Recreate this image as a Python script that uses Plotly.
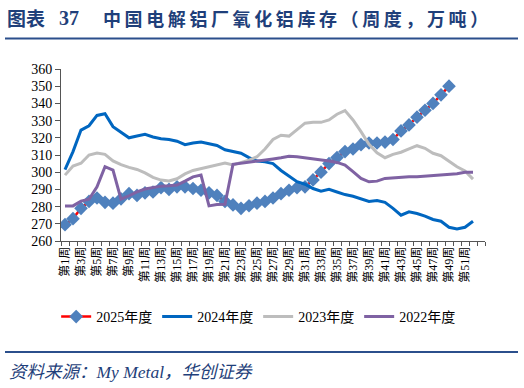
import plotly.graph_objects as go

# ---------------- data ----------------
weeks = list(range(1, 54))                      # 53 weekly categories on the axis
tick_weeks = list(range(1, 52, 2))
tick_labels = [f"第{w}周" for w in tick_weeks]

y2025 = [269.5, 273, 279, 283, 285, 282.5, 282, 284.5, 287.5, 286.5,
         288, 288.5, 291, 290, 291.5, 291.5, 290.5, 289.5, 288, 286.5,
         283, 281, 279, 280.5, 282, 283, 285, 287.5, 289.5, 291,
         291.5, 295.5, 300, 305, 308.5, 312, 313.5, 316, 317, 317,
         317.5, 319, 324, 327.5, 332, 336, 340, 345, 350]

y2024 = [301.5, 312, 324.5, 327, 333, 334, 326.5, 323, 320, 321,
         322, 320.5, 319.5, 319, 318, 316, 317, 317.5, 316.5, 315.5,
         313, 312, 311, 308.5, 306.5, 306, 305, 301, 298, 294.5,
         293, 290.5, 289, 290, 288.5, 287, 286, 284.5, 283, 283.5,
         282.5, 279, 275, 277, 276, 274.5, 272.5, 271.5, 268, 267,
         268, 271.5]

y2023 = [298.3, 303.6, 305.2, 310, 311.2, 310.4, 306.6, 304.4, 302.8, 301.6,
         299.6, 297, 295.4, 294.9, 296.2, 299, 301, 302, 303, 304.3,
         305.3, 304.2, 305.5, 307, 309, 313.5, 319, 321.5, 321, 324.5,
         328.5, 329, 329, 330.4, 333.7, 335.8, 330.4, 323.6, 316.2, 311.3,
         308.4, 310.4, 311.6, 313.5, 315.4, 313.9, 311, 309.6, 306.5, 303.2,
         300.7, 296]

y2022 = [280.4, 280.4, 283.2, 284.3, 291.5, 303.2, 301.2, 284.3, 286.3, 288.6,
         290.2, 290.9, 291.9, 292.1, 292.5, 294.8, 297.3, 298.3, 280.4, 281.2,
         281.4, 304.6, 305.2, 305.5, 306.1, 306.7, 307.7, 308.4, 309.3, 309,
         308.4, 308, 307.5, 306.5, 305.7, 304.2, 300.3, 296.4, 294.4, 294.8,
         296.4, 296.8, 297.2, 297.3, 297.3, 297.6, 297.9, 298.3, 298.7, 299.1,
         299.9, 299.9]

series_names = ["2025年度", "2024年度", "2023年度", "2022年度"]

# ---------------- figure ----------------
W, H = 524, 388
ML, MR, MT, MB = 61, 39, 69, 147
PW, PH = W - ML - MR, H - MT - MB


def xp(px):
    return (px - ML) / PW


def yp(py):
    return (H - MB - py) / PH


SERIF = "Liberation Serif, 'Times New Roman', 'Noto Sans CJK SC', serif"
NAVY = "#1F3F7A"

fig = go.Figure()

fig.add_trace(go.Scatter(
    x=weeks[:len(y2025)], y=y2025, name=series_names[0],
    mode="lines+markers",
    line=dict(color="#FF0000", width=2.5),
    marker=dict(symbol="diamond", size=10.5, color="#4F81BD"),
))
fig.add_trace(go.Scatter(
    x=weeks[:len(y2024)], y=y2024, name=series_names[1], mode="lines",
    line=dict(color="#0066C0", width=3),
))
fig.add_trace(go.Scatter(
    x=weeks[:len(y2023)], y=y2023, name=series_names[2], mode="lines",
    line=dict(color="#BDBDBD", width=3),
))
fig.add_trace(go.Scatter(
    x=weeks[:len(y2022)], y=y2022, name=series_names[3], mode="lines",
    line=dict(color="#7F62A3", width=3),
))

fig.update_layout(
    width=W, height=H,
    margin=dict(l=ML, r=MR, t=MT, b=MB),
    paper_bgcolor="white", plot_bgcolor="white",
    font=dict(family=SERIF, color="black"),
    showlegend=True,
    legend=dict(
        orientation="h", x=0.465, xanchor="center",
        y=yp(317), yanchor="middle",
        font=dict(size=14, family=SERIF),
        bgcolor="rgba(0,0,0,0)",
        itemwidth=30, tracegroupgap=0,
    ),
    xaxis=dict(
        range=[0.5, 53.5],
        tickmode="array", tickvals=tick_weeks, ticktext=tick_labels,
        tickangle=-90, ticks="", showgrid=False, zeroline=False,
        showline=True, linecolor="#555555", linewidth=1,
        tickfont=dict(size=12, family=SERIF),
        minor=dict(tickmode="linear", tick0=0.5, dtick=1, ticks="outside",
                   ticklen=4, tickcolor="#555555", showgrid=False),
    ),
    yaxis=dict(
        range=[260, 360], dtick=10, tick0=260,
        ticks="outside", ticklen=5, tickcolor="#555555",
        showline=True, linecolor="#555555", linewidth=1,
        showgrid=False, zeroline=False,
        tickfont=dict(size=14, family=SERIF),
    ),
)

# title
fig.add_annotation(
    text="<b>图表</b>", xref="paper", yref="paper",
    x=xp(5), y=yp(18), xanchor="left", yanchor="middle", showarrow=False,
    font=dict(size=19, color=NAVY, family="'Noto Sans CJK SC', sans-serif"),
)
fig.add_annotation(
    text="<b>37</b>", xref="paper", yref="paper",
    x=xp(57), y=yp(18), xanchor="left", yanchor="middle", showarrow=False,
    font=dict(size=20, color=NAVY, family="Liberation Serif, serif"),
)
fig.add_annotation(
    text="<b>" + "\u2009".join("中国电解铝厂氧化铝库存（周度，万吨）") + "</b>",
    xref="paper", yref="paper",
    x=xp(101), y=yp(18), xanchor="left", yanchor="middle", showarrow=False,
    font=dict(size=18, color=NAVY, family="'Noto Sans CJK SC', sans-serif"),
)
# source
fig.add_annotation(
    text="<i>资料来源：My Metal，华创证券</i>", xref="paper", yref="paper",
    x=xp(7), y=yp(372), xanchor="left", yanchor="middle", showarrow=False,
    font=dict(size=17.5, color=NAVY, family=SERIF),
)
# separator lines
for ypx in (38.5, 352):
    fig.add_shape(type="line", xref="paper", yref="paper",
                  x0=xp(5), x1=xp(518), y0=yp(ypx), y1=yp(ypx),
                  line=dict(color="#2B4F8C", width=2))

fig.write_html("out.html")
